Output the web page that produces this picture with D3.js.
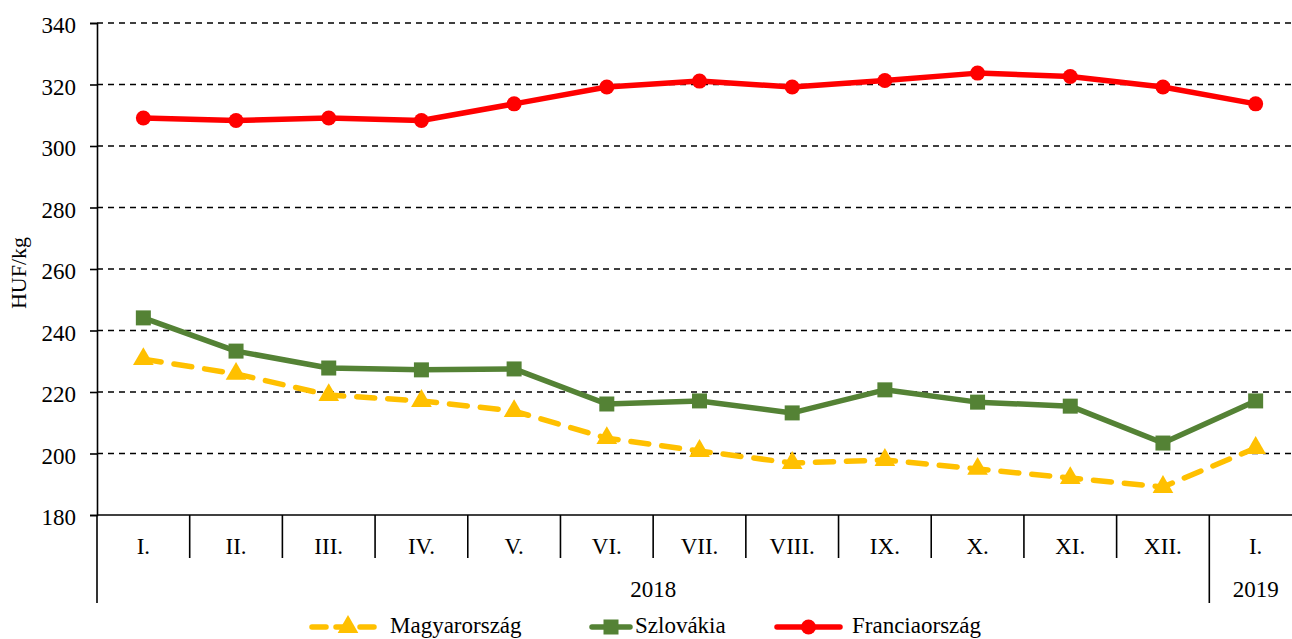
<!DOCTYPE html>
<html><head><meta charset="utf-8">
<script src="https://cdn.jsdelivr.net/npm/d3@7"></script>
<style>body{margin:0;background:#fff;overflow:hidden}svg{display:block}svg text{font-family:"Liberation Serif","Times New Roman",serif !important}</style>
</head><body>
<script>
const months = ["I.","II.","III.","IV.","V.","VI.","VII.","VIII.","IX.","X.","XI.","XII.","I."];
const years = [{label:"2018", from:0, to:11},{label:"2019", from:12, to:12}];
const yTicks = [180,200,220,240,260,280,300,320,340];
const magyar = [230.7,225.9,219.0,217.1,213.8,205.0,200.8,196.9,197.9,195.0,192.0,189.1,201.8];
const szlovak = [244.1,233.3,227.8,227.2,227.5,216.1,217.1,213.2,220.7,216.7,215.4,203.4,217.1];
const francia = [309.1,308.3,309.1,308.3,313.7,319.2,321.1,319.2,321.3,323.7,322.6,319.2,313.7];
const seriesNames = ["Magyarország","Szlovákia","Franciaország"];

const W=1292,H=639, L=97, R=1302, T=23, B=515;
const FONT="Liberation Serif, Times New Roman, serif";
const svg=d3.select("body").append("svg").attr("width",W).attr("height",H)
  .attr("font-family",FONT);
const x=d3.scaleBand().domain(d3.range(months.length)).range([L,R]).padding(0);
const y=d3.scaleLinear().domain([180,340]).range([B,T]);

// grid
svg.append("g").selectAll("line").data(yTicks.filter(t=>t>180)).join("line")
  .attr("x1",L).attr("x2",R).attr("y1",d=>y(d)).attr("y2",d=>y(d))
  .attr("stroke","#000").attr("stroke-width",1.6).attr("stroke-dasharray","6,5");

// y axis
const ya=svg.append("g").attr("transform",`translate(${L},0)`)
  .call(d3.axisLeft(y).tickValues(yTicks).tickSize(7).tickPadding(14))
  .attr("font-family",FONT);
ya.select(".domain").attr("stroke","#000").attr("stroke-width",1.6);
ya.selectAll(".tick line").attr("stroke","#000").attr("stroke-width",1.6);
ya.selectAll("text").attr("font-size",23).attr("fill","#000").attr("dy","0.42em");

svg.append("text").attr("transform",`translate(26,${(T+B)/2+4}) rotate(-90)`)
  .attr("text-anchor","middle").attr("font-size",22).text("HUF/kg");

// x axis
svg.append("line").attr("x1",L).attr("x2",R).attr("y1",B).attr("y2",B).attr("stroke","#000").attr("stroke-width",1.6);
const bw=x.bandwidth();
const sep=d3.range(months.length+1);
svg.append("g").selectAll("line").data(sep).join("line")
  .attr("x1",i=>L+i*bw).attr("x2",i=>L+i*bw).attr("y1",B)
  .attr("y2",i=>(i===0||i===12)?603:558)
  .attr("stroke","#000").attr("stroke-width",1.6);
svg.append("g").selectAll("text").data(months).join("text")
  .attr("x",(d,i)=>x(i)+bw/2).attr("y",554).attr("text-anchor","middle")
  .attr("font-size",23).text(d=>d);
svg.append("g").selectAll("text").data(years).join("text")
  .attr("x",d=>(x(d.from)+x(d.to)+bw)/2).attr("y",597).attr("text-anchor","middle")
  .attr("font-size",23).text(d=>d.label);

const cx=i=>x(i)+bw/2;
const line=d3.line().x((d,i)=>cx(i)).y(d=>y(d));
const colors=["#FFC000","#548235","#FF0000"];

function drawMarker(g,type,color,px,py){
  if(type==="tri") g.append("path").attr("d",d3.symbol(d3.symbolTriangle,185)()).attr("transform",`translate(${px},${py})`).attr("fill",color);
  else if(type==="sq") g.append("rect").attr("x",px-7.5).attr("y",py-7.5).attr("width",15).attr("height",15).attr("fill",color);
  else g.append("circle").attr("cx",px).attr("cy",py).attr("r",7.5).attr("fill",color);
}

// series
const sdata=[{v:magyar,c:colors[0],m:"tri",dash:"18,13"},{v:szlovak,c:colors[1],m:"sq",dash:null},{v:francia,c:colors[2],m:"circ",dash:null}];
sdata.forEach(s=>{
  const p=svg.append("path").datum(s.v).attr("d",line).attr("fill","none")
    .attr("stroke",s.c).attr("stroke-width",5.5).attr("stroke-linejoin","round").attr("stroke-linecap","round");
  if(s.dash) p.attr("stroke-dasharray",s.dash);
  const g=svg.append("g");
  s.v.forEach((v,i)=>drawMarker(g,s.m,s.c,cx(i),y(v)));
});

// legend
const leg=[{x1:312,x2:384,tx:390},{x1:592,x2:630,tx:635},{x1:777,x2:840,tx:852}];
sdata.forEach((s,i)=>{
  const g=svg.append("g");
  const ly=627;
  const l=g.append("line").attr("x1",leg[i].x1).attr("x2",leg[i].x2).attr("y1",ly).attr("y2",ly)
    .attr("stroke",s.c).attr("stroke-width",5.5).attr("stroke-linecap","round");
  if(s.dash) l.attr("stroke-dasharray","14,10");
  drawMarker(g,s.m,s.c,(leg[i].x1+leg[i].x2)/2,ly);
  g.append("text").attr("x",leg[i].tx).attr("y",633).attr("font-size",23).text(seriesNames[i]);
});
</script>
</body></html>
